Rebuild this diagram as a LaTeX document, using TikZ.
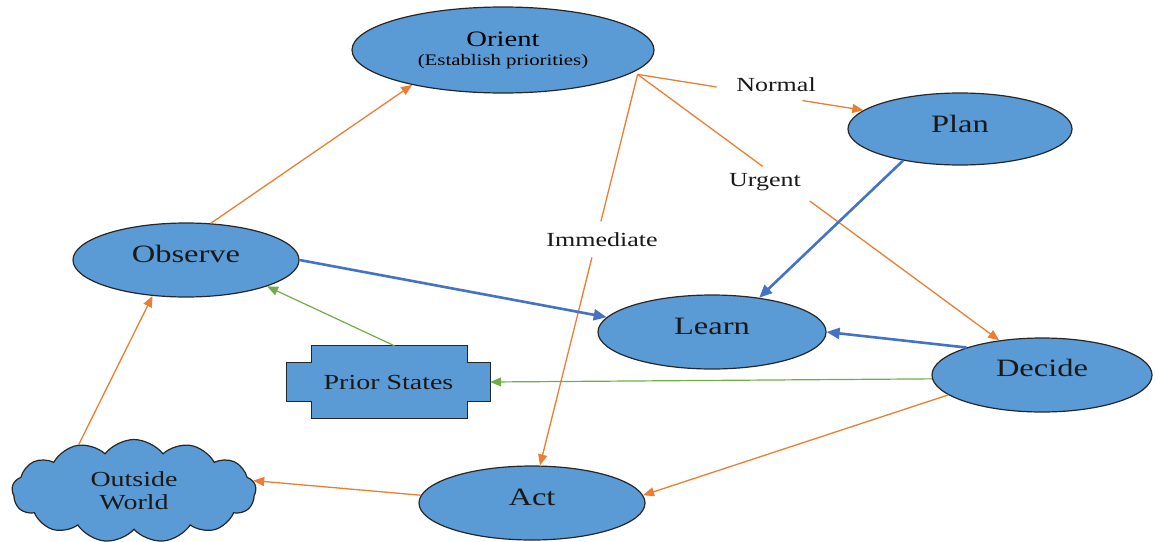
\documentclass[tikz,border=0pt]{standalone}
\usepackage{fontspec}
\setmainfont{Liberation Serif}[FakeStretch=1.3]
\usetikzlibrary{shapes.geometric,shapes.symbols,arrows.meta,calc,backgrounds}
\definecolor{nodeblue}{HTML}{5B9BD5}
\definecolor{lineorange}{HTML}{ED7D31}
\definecolor{lineblue}{HTML}{4472C4}
\definecolor{linegreen}{HTML}{70AD47}
\begin{document}
\begin{tikzpicture}[x=1pt,y=-1pt,
 ell/.style={ellipse, draw=black!85, line width=1.2pt, fill=nodeblue, inner sep=0pt},
 txt/.style={font=\fontsize{25}{27}\selectfont, text=black!90, inner sep=0pt},
 lbl/.style={font=\fontsize{20}{22}\selectfont, text=black!90, inner sep=0pt},
 oline/.style={draw=lineorange, line width=1.3pt},
 oarr/.style={oline, -{Triangle[length=11pt,width=9pt]}},
 barr/.style={draw=lineblue, line width=2.6pt, -{Triangle[length=13pt,width=11pt]}},
 garr/.style={draw=linegreen, line width=1.2pt, -{Triangle[length=11pt,width=9pt]}},
]
\useasboundingbox (0,0) rectangle (1155,541);

% nodes
\node[ell, minimum width=302pt, minimum height=86pt, align=center,
      font=\fontsize{22}{20}\selectfont] (orient) at (503,50)
      {Orient\\[-1pt]{\fontsize{16}{18}\selectfont(Establish priorities)}};
\node[ell, minimum width=224pt, minimum height=72pt,
      label={[txt,yshift=5pt]center:Plan}] (plan) at (960,129) {};
\node[ell, minimum width=226pt, minimum height=74pt,
      label={[txt,yshift=6pt]center:Observe}] (observe) at (186,260) {};
\node[ell, minimum width=228pt, minimum height=74pt,
      label={[txt,yshift=6pt]center:Learn}] (learn) at (712,332) {};
\node[ell, minimum width=220pt, minimum height=74pt,
      label={[txt,yshift=7pt]center:Decide}] (decide) at (1042,375) {};
\node[ell, minimum width=226pt, minimum height=74pt,
      label={[txt,yshift=6pt]center:Act}] (act) at (532,503) {};
\node[cloud, cloud puffs=13, cloud puff arc=105, aspect=1.35, draw=black!85, line width=1.2pt,
      fill=nodeblue, minimum width=244pt, minimum height=86pt, inner sep=0pt,
      align=center, font=\fontsize{21.5}{23}\selectfont, text=black!90]
      (world) at (134,491) {Outside\\World};
\node[minimum width=203pt, minimum height=72pt, inner sep=0pt,
      font=\fontsize{21.5}{23}\selectfont, text=black!90] (prior) at (388.5,382) {Prior States};
\begin{pgfonlayer}{background}
\draw[draw=black!85, line width=1.2pt, fill=nodeblue]
  ($(prior.north west)+(25,0)$) -- ($(prior.north east)+(-23,0)$)
  -- ($(prior.north east)+(-23,17)$) -- ($(prior.north east)+(0,17)$)
  -- ($(prior.south east)+(0,-17)$) -- ($(prior.south east)+(-23,-17)$)
  -- ($(prior.south east)+(-23,0)$) -- ($(prior.south west)+(25,0)$)
  -- ($(prior.south west)+(25,-17)$) -- ($(prior.south west)+(0,-17)$)
  -- ($(prior.north west)+(0,17)$) -- ($(prior.north west)+(25,17)$) -- cycle;
\end{pgfonlayer}

% connectors from Orient
\coordinate (os) at ([xshift=9pt]orient.-11);
\path (os) -- (plan.169) coordinate[pos=0.35] (n1) coordinate[pos=0.73] (n2);
\draw[oline] (os) -- (n1);
\draw[oarr] (n2) -- (plan.169);
\node[lbl] (normal) at (776,85) {Normal};

\path (os) -- (decide.141) coordinate[pos=0.346] (u1) coordinate[pos=0.476] (u2);
\draw[oline] (os) -- (u1);
\draw[oarr] (u2) -- (decide.141);
\node[lbl] (urgent) at (765,182) {Urgent};

\path (os) -- (act.78) coordinate[pos=0.376] (i1) coordinate[pos=0.468] (i2);
\draw[oline] (os) -- (i1);
\draw[oarr] (i2) -- (act.78);
\node[lbl] (immediate) at (602,240) {Immediate};

% other connectors
\draw[oarr] (observe.56) -- (orient.201);
\draw[barr] (plan.209) -- (learn.36);
\draw[barr] (observe.0) -- (learn.172);
\draw[barr] (decide.160) -- (learn.0);
\draw[garr] (decide.182) -- (prior.east);
\draw[garr] ([xshift=6pt]prior.north) -- (observe.-18);
\draw[oarr] (decide.192) -- (act.4);
\draw[oarr] (act.176) -- (world.5);
\draw[oarr] (world.140) -- (observe.227);
\end{tikzpicture}
\end{document}
